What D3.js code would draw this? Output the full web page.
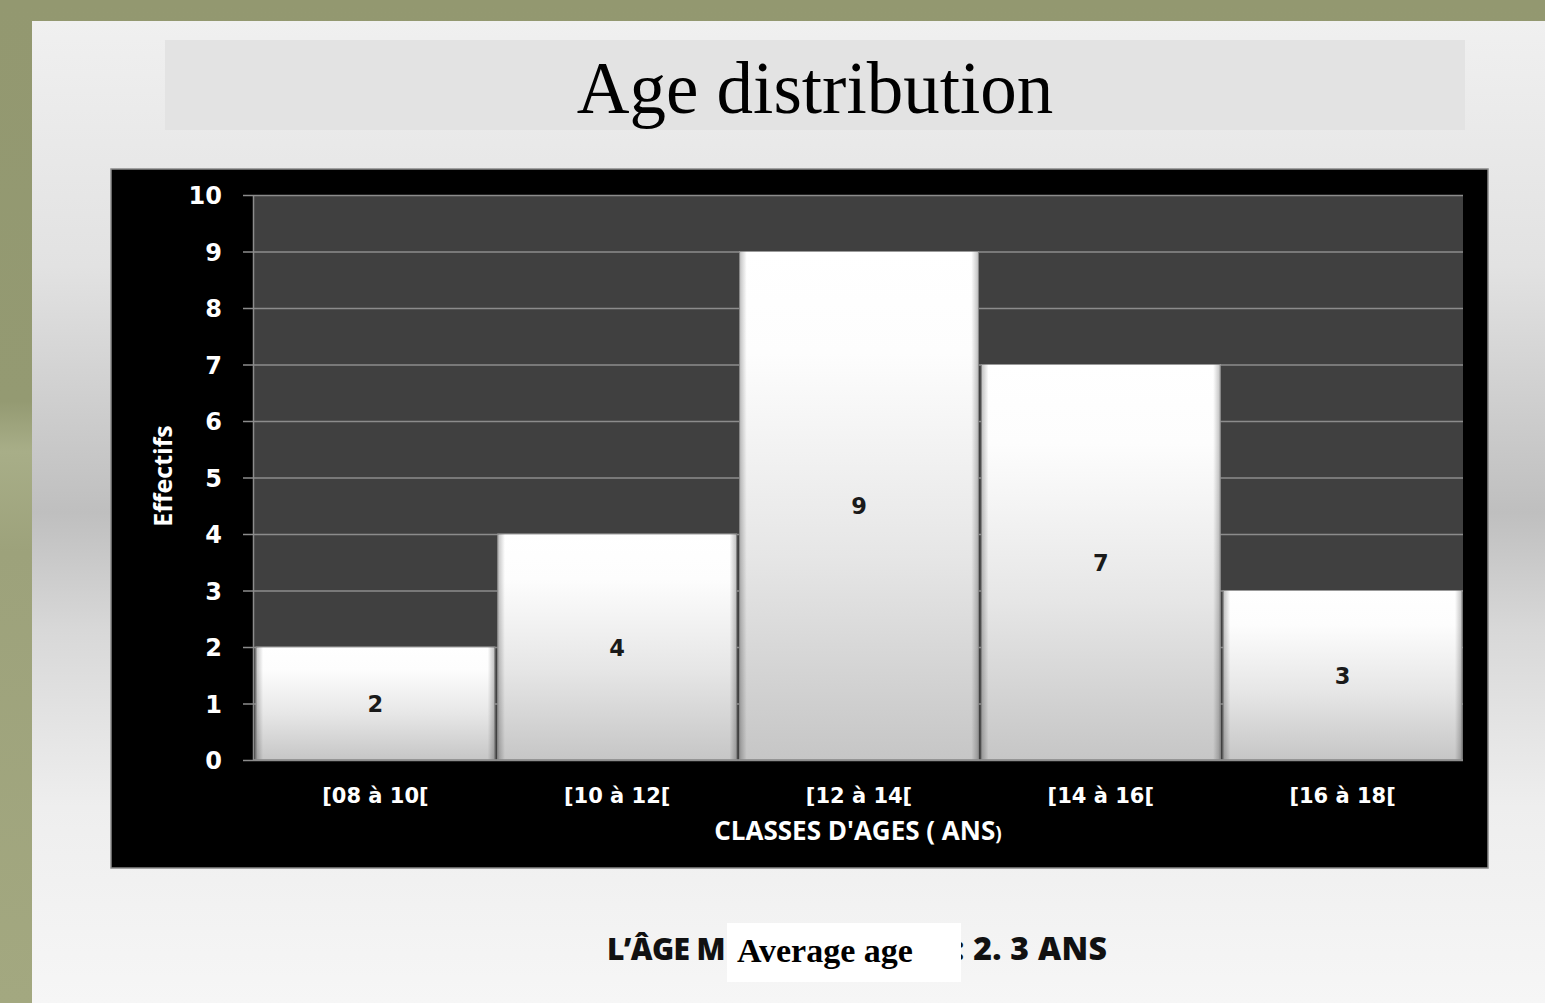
<!DOCTYPE html>
<html><head><meta charset="utf-8">
<script src="https://cdn.jsdelivr.net/npm/d3@7"></script>
<style>body{margin:0;padding:0;overflow:hidden;background:#939870}</style>
</head><body>
<svg id="chart" width="1545" height="1003"></svg>
<script>
const categories = ["[08 à 10[", "[10 à 12[", "[12 à 14[", "[14 à 16[", "[16 à 18["];
const values = [2, 4, 9, 7, 3];
const yTicks = [0,1,2,3,4,5,6,7,8,9,10];
const title = "Age distribution";
const yTitle = "Effectifs";
const xTitleMain = "CLASSES D'AGES ( ANS";
const xTitleEnd = ")";

const svg = d3.select("#chart");
const defs = svg.append("defs");

// Olive frame gradient
const og = defs.append("linearGradient").attr("id","olive").attr("x1",0).attr("y1",0).attr("x2",0).attr("y2",1);
og.append("stop").attr("offset","0%").attr("stop-color","#939870");
og.append("stop").attr("offset","40%").attr("stop-color","#949a72");
og.append("stop").attr("offset","45%").attr("stop-color","#a8ae88");
og.append("stop").attr("offset","55%").attr("stop-color","#9da27b");
og.append("stop").attr("offset","100%").attr("stop-color","#a3a880");
svg.append("rect").attr("width",1545).attr("height",1003).attr("fill","url(#olive)");

// Panel gradient
const pg = defs.append("linearGradient").attr("id","panel").attr("x1",0).attr("y1",0).attr("x2",0).attr("y2",1);
[["0%","#f0f0f0"],["25%","#e2e2e2"],["50%","#bfbfbf"],["62%","#d8d8d8"],["80%","#eeeeee"],["100%","#f6f6f6"]]
  .forEach(([o,c])=>pg.append("stop").attr("offset",o).attr("stop-color",c));
svg.append("rect").attr("x",32).attr("y",21).attr("width",1513).attr("height",982).attr("fill","url(#panel)");

// Title box
svg.append("rect").attr("x",165).attr("y",40).attr("width",1300).attr("height",90).attr("fill","#e3e3e3");
svg.append("text").attr("x",815).attr("y",113).attr("text-anchor","middle")
  .attr("font-family","'Liberation Serif', 'DejaVu Serif', serif").attr("font-size",73).attr("fill","#000").text(title);

// Chart black box
svg.append("rect").attr("x",111).attr("y",169).attr("width",1377).attr("height",699)
  .attr("fill","#000").attr("stroke","#8a8a8a").attr("stroke-width",1.5);

const plot = {left:253, right:1463, top:195, bottom:760};
const y = d3.scaleLinear().domain([0,10]).range([plot.bottom, plot.top]);
const x = d3.scaleBand().domain(categories).range([plot.left+1, plot.right+1]).paddingInner(0.012).paddingOuter(0.008);

svg.append("rect").attr("x",plot.left).attr("y",plot.top).attr("width",plot.right-plot.left).attr("height",plot.bottom-plot.top).attr("fill","#404040");

// Gridlines
svg.append("g").attr("transform",`translate(${plot.left},0)`)
  .call(d3.axisLeft(y).tickValues(yTicks).tickSize(-(plot.right-plot.left)).tickFormat(""))
  .call(g=>{g.select(".domain").remove(); g.selectAll("line").attr("stroke","#8c8c8c").attr("stroke-width",1.5);});

// Y axis
const fontNum = "'DejaVu Sans', 'Open Sans', sans-serif";
const fontSans = "'Open Sans', 'DejaVu Sans', sans-serif";
svg.append("g").attr("transform",`translate(${plot.left},0)`)
  .call(d3.axisLeft(y).tickValues(yTicks).tickSize(10).tickPadding(21).tickSizeOuter(0))
  .call(g=>{
    g.select(".domain").attr("stroke","#8c8c8c").attr("stroke-width",1.5);
    g.selectAll("line").attr("stroke","#8c8c8c").attr("stroke-width",1.5);
    g.selectAll("text").attr("fill","#fff").attr("font-family",fontNum).attr("font-weight","bold").attr("font-size",24).attr("dy","0.36em");
  });

// Bar gradient
const bg = defs.append("linearGradient").attr("id","bar").attr("x1",0).attr("y1",0).attr("x2",0).attr("y2",1);
[["0%","#ffffff"],["20%","#fdfdfd"],["60%","#e6e6e6"],["100%","#c6c6c6"]]
  .forEach(([o,c])=>bg.append("stop").attr("offset",o).attr("stop-color",c));
const be = defs.append("linearGradient").attr("id","edge").attr("x1",0).attr("y1",0).attr("x2",1).attr("y2",0);
[["0%","#000",0.25],["3%","#000",0],["97%","#000",0],["100%","#000",0.25]]
  .forEach(([o,c,op])=>be.append("stop").attr("offset",o).attr("stop-color",c).attr("stop-opacity",op));

const bars = svg.append("g").selectAll("g").data(categories.map((c,i)=>({c,v:values[i]}))).join("g");
bars.append("rect").attr("x",d=>x(d.c)).attr("y",d=>y(d.v)).attr("width",x.bandwidth()).attr("height",d=>y(0)-y(d.v))
  .attr("fill","url(#bar)").attr("stroke","#9a9a9a").attr("stroke-width",1);
bars.append("rect").attr("x",d=>x(d.c)).attr("y",d=>y(d.v)).attr("width",x.bandwidth()).attr("height",d=>y(0)-y(d.v))
  .attr("fill","url(#edge)");
bars.append("text").attr("x",d=>x(d.c)+x.bandwidth()/2).attr("y",d=>(y(d.v)+y(0))/2+8.5)
  .attr("text-anchor","middle").attr("font-family",fontNum).attr("font-weight","bold").attr("font-size",22.5).attr("fill","#1a1a1a")
  .text(d=>d.v);

// X axis labels
svg.append("g").attr("transform",`translate(0,${plot.bottom})`)
  .call(d3.axisBottom(x).tickSize(0).tickPadding(28))
  .call(g=>{
    g.select(".domain").attr("stroke","#8c8c8c").attr("stroke-width",1.5).attr("d",`M${plot.left},0H${plot.right}`);
    g.selectAll("text").attr("fill","#fff").attr("font-family",fontNum).attr("font-weight","bold").attr("font-size",21);
  });

const xt = svg.append("text").attr("x",858).attr("y",840).attr("text-anchor","middle").attr("fill","#fff")
  .attr("font-family",fontSans).attr("font-weight","bold").attr("font-size",26);
xt.append("tspan").text(xTitleMain);
xt.append("tspan").attr("font-size",19).text(xTitleEnd);
svg.append("text").attr("transform","translate(172,476) rotate(-90)").attr("text-anchor","middle").attr("fill","#fff")
  .attr("font-family",fontSans).attr("font-weight","bold").attr("font-size",25).text(yTitle);

// Bottom caption
svg.append("text").attr("x",607).attr("y",960).attr("fill","#111").attr("font-family",fontSans).attr("font-weight","800")
  .attr("font-size",30).attr("letter-spacing",-0.6).text("L’ÂGE M");
svg.append("text").attr("x",955).attr("y",960).attr("fill","#111").attr("font-family",fontSans).attr("font-weight","800")
  .attr("font-size",32).attr("letter-spacing",0.3).text(": 2. 3 ANS");
svg.append("rect").attr("x",727).attr("y",923).attr("width",234).attr("height",59).attr("fill","#fff");
svg.append("text").attr("x",737).attr("y",962).attr("fill","#000").attr("font-family","'Liberation Serif', serif").attr("font-weight","bold")
  .attr("font-size",34).text("Average age");
</script>
</body></html>
